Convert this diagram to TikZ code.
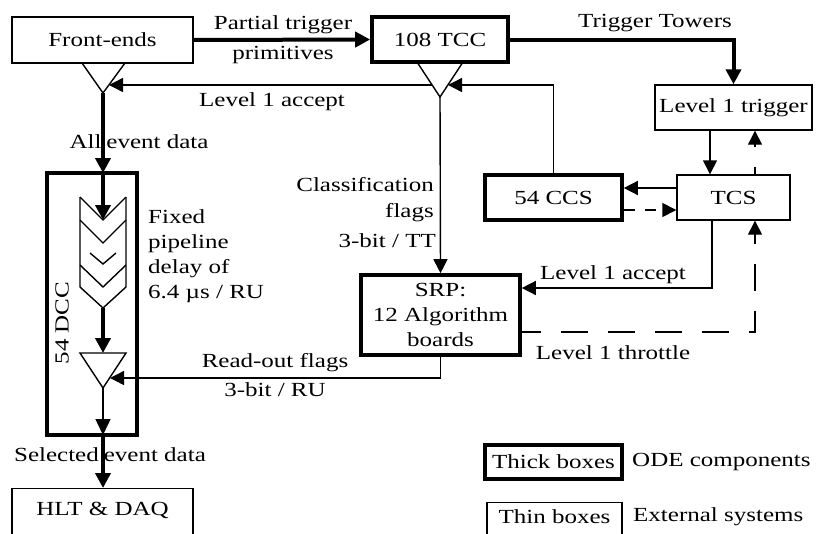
\documentclass[tikz,border=0pt]{standalone}
\usepackage{fontspec}
\setmainfont[FakeStretch=1.25]{Liberation Serif}
\usetikzlibrary{arrows.meta}
\begin{document}
\begin{tikzpicture}[x=1pt,y=-1pt,
  font=\fontsize{20}{25}\selectfont,
  thinbox/.style={draw, line width=1.4pt, inner sep=0pt},
  thickbox/.style={draw, line width=3.6pt, inner sep=0pt},
  lbl/.style={inner sep=0pt},
  thinline/.style={line width=1.4pt},
  arr/.style={line width=1.4pt, -{Triangle[length=14pt,width=14pt]}},
  tarr/.style={line width=4pt, -{Triangle[length=15pt,width=15pt]}},
  darr/.style={line width=1.4pt, dash pattern=on 27pt off 20pt, -{Triangle[length=14pt,width=14pt]}},
  dline/.style={line width=1.4pt, dash pattern=on 27pt off 20pt}]
\useasboundingbox (0,0) rectangle (816,533);

% boxes
\node[thinbox, minimum width=181pt, minimum height=46pt] (fe) at (102.5,40) {Front-ends};
\node[thickbox, minimum width=136pt, minimum height=45pt] (tcc) at (440,39.5) {108 TCC};
\node[thinbox, minimum width=157pt, minimum height=45pt] (l1t) at (733.5,107.5) {Level 1 trigger};
\node[thinbox, minimum width=113pt, minimum height=45pt] (tcs) at (733.5,197.5) {TCS};
\node[thickbox, minimum width=137pt, minimum height=45pt] (ccs) at (553.5,197.5) {54 CCS};
\node[thickbox, minimum width=159pt, minimum height=80pt, align=center] (srp) at (440.5,315) {SRP:\\12 Algorithm\\boards};
\node[thickbox, minimum width=90pt, minimum height=262pt] (dcc) at (92,304) {};
\node[lbl, rotate=90] (dcclbl) at (62,323) {54 DCC};
\node[thinbox, minimum width=181pt, minimum height=60pt, anchor=north] (hlt) at (102.5,488) {};
\node[lbl] (hltlbl) at (102.5,510) {HLT \& DAQ};

% legend
\node[thickbox, minimum width=137pt, minimum height=34pt] (legthick) at (553.5,462) {Thick boxes};
\node[lbl, anchor=west] (legode) at (632,462) {ODE components};
\node[thinbox, minimum width=135pt, minimum height=60pt, anchor=north] (legthin) at (554.5,502) {};
\node[lbl] (legthinlbl) at (554.5,517) {Thin boxes};
\node[lbl, anchor=west] (legext) at (633,517) {External systems};

% triangles (fan-outs)
\coordinate (feA) at (103,93);
\coordinate (tccA) at (440,97);
\coordinate (dtA) at (103,388);
\draw[thinline] (82,63) -- (feA) -- (125,63);
\draw[thinline] (417,62) -- (tccA) -- (463,62);
\draw[thinline] (80,353) -- (126,353) -- (dtA) -- cycle;
\coordinate (feR) at (109,85);
\coordinate (tccR) at (448,85);
\coordinate (tccL) at (432,85);
\coordinate (dtR) at (110,378);
\coordinate (dtT) at (103,353);
\coordinate (dccT) at (103,173);
\coordinate (dccB) at (103,435);
\coordinate (hltT) at (103,488);

% pipeline chevrons
\draw[thinline, line join=miter] (80,197) -- (80,287) -- (103,308) -- (126,287) -- (126,197);
\draw[thinline] (80,197) -- (103,220) -- (126,197);
\draw[thinline] (80,220) -- (103,243) -- (126,220);
\draw[thinline] (90,253) -- (103,264) -- (116,253);
\draw[thinline] (80,265) -- (103,287) -- (126,265);
\coordinate (chT) at (103,220);
\coordinate (chB) at (103,308);

% connectors
\draw[tarr] (fe.east) -- (tcc.west);
\draw[tarr] (tcc.east) -| (l1t.north);
\draw[arr] (ccs.north) |- (tccR);
\draw[arr] (tccL) -- (feR);
\draw[tarr] (feA) -- (dccT);
\draw[tarr] (dccT) -- (chT);
\draw[tarr] (chB) -- (dtT);
\draw[thinline] (dtA) -- (103,422);
\draw[line width=1.4pt, -{Triangle[length=16pt,width=15pt]}] (103,420) -- (dccB);
\draw[tarr] (dccB) -- (hltT);
\draw[arr] (tccA) -- (srp.north);
\draw[arr] (l1t.south -| 710,0) -- (tcs.north -| 710,0);
\draw[darr, dash phase=20pt] (tcs.north -| 755,0) -- (l1t.south -| 755,0);
\draw[arr] (tcs.west |- 0,188) -- (ccs.east |- 0,188);
\draw[darr, dash pattern=on 11pt off 10pt] (ccs.east |- 0,210) -- (tcs.west |- 0,210);
\draw[arr] (tcs.south -| 712,0) |- (srp.east |- 0,288);
\coordinate (thr) at (755,332);
\draw[darr, dash phase=8pt] (srp.east |- 0,332) -- (thr) -- (tcs.south -| 755,0);
\draw[arr] (srp.south) |- (dtR);

% labels
\node[lbl] (l1) at (283,25) {Partial trigger};
\node[lbl] (l2) at (283,55) {primitives};
\node[lbl] (l3) at (655,23) {Trigger Towers};
\node[lbl] (l4) at (272,102) {Level 1 accept};
\node[lbl] (l5) at (139,142) {All\hspace{5pt}event data};
\node[lbl, anchor=east] (l6) at (434,185) {Classification};
\node[lbl, anchor=east] (l7) at (434,213) {flags};
\node[lbl, anchor=east] (l8) at (436,241) {3-bit / TT};
\node[lbl, anchor=west, align=left] (l9) at (148,256) {Fixed\\pipeline\\delay of\\6.4 µs / RU};
\node[lbl] (l10) at (275,363) {Read-out flags};
\node[lbl] (l11) at (275,390) {3-bit / RU};
\node[lbl] (l12) at (613,275) {Level 1 accept};
\node[lbl] (l13) at (613,353) {Level 1 throttle};
\node[lbl] (l14) at (110,455) {Selected\hspace{5pt}event data};
\end{tikzpicture}
\end{document}
